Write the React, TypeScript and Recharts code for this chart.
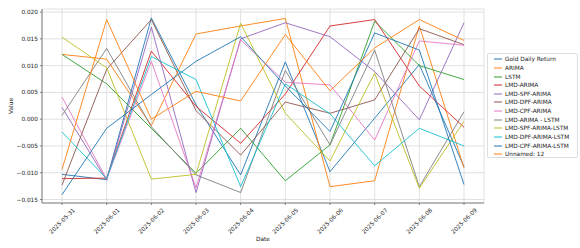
import React from "react";
import { LineChart, Line, XAxis, YAxis, CartesianGrid } from "recharts";

const dates = [
  "2025-05-31",
  "2025-06-01",
  "2025-06-02",
  "2025-06-03",
  "2025-06-04",
  "2025-06-05",
  "2025-06-06",
  "2025-06-07",
  "2025-06-08",
  "2025-06-09",
];

const goldDailyReturn = [-0.0103, -0.0113, 0.0189, 0.0027, -0.0104, 0.0107, -0.0098, 0.0002, 0.0102, -0.0089];
const arima = [0.0121, 0.0112, -0.0012, 0.0159, 0.0174, 0.0188, -0.0126, -0.0115, 0.0174, -0.0091];
const lstm = [0.0121, 0.0066, -0.0017, -0.0101, -0.0017, -0.0115, -0.0048, 0.0183, 0.01, 0.0074];
const lmdArima = [-0.0111, -0.011, 0.0127, 0.0024, -0.0045, 0.0047, 0.0174, 0.0186, 0.0062, -0.0015];
const lmdSpfArima = [0.0022, -0.0114, 0.0172, -0.0137, 0.015, 0.018, 0.0154, 0.0089, -0.0001, 0.018];
const lmdDpfArima = [-0.0123, 0.0093, 0.0186, 0.0016, -0.0067, 0.0032, 0.0011, 0.0036, 0.0169, 0.0139];
const lmdCpfArima = [0.0041, -0.0112, 0.0108, -0.0128, 0.0148, 0.0069, 0.0064, -0.0039, 0.0146, 0.0138];
const lmdArimaLstm = [0.0007, 0.0132, -0.0014, -0.0104, -0.0137, 0.0091, -0.0048, 0.0129, -0.0126, 0.0014];
const lmdSpfArimaLstm = [0.0153, 0.0096, -0.0112, -0.0103, 0.0179, 0.0011, -0.0078, 0.0086, -0.0129, -0.0004];
const lmdDpfArimaLstm = [-0.0024, -0.0111, 0.0117, 0.0074, -0.0126, 0.0066, 0.001, -0.0087, -0.0017, -0.005];
const lmdCpfArimaLstm = [-0.0141, -0.0017, 0.0046, 0.0108, 0.0154, 0.0062, -0.0023, 0.0161, 0.0129, -0.0122];
const unnamed12 = [-0.0094, 0.0186, 0.0, 0.0052, 0.0034, 0.0158, 0.0053, 0.0133, 0.0186, 0.0147];

const yTicks = [-0.015, -0.01, -0.005, 0, 0.005, 0.01, 0.015, 0.02];

// matplotlib tab10 cycle
const series = [
  { key: "Gold Daily Return", values: goldDailyReturn, color: "#1f77b4" },
  { key: "ARIMA", values: arima, color: "#ff7f0e" },
  { key: "LSTM", values: lstm, color: "#2ca02c" },
  { key: "LMD-ARIMA", values: lmdArima, color: "#d62728" },
  { key: "LMD-SPF-ARIMA", values: lmdSpfArima, color: "#9467bd" },
  { key: "LMD-DPF-ARIMA", values: lmdDpfArima, color: "#8c564b" },
  { key: "LMD-CPF-ARIMA", values: lmdCpfArima, color: "#e377c2" },
  { key: "LMD-ARIMA - LSTM", values: lmdArimaLstm, color: "#7f7f7f" },
  { key: "LMD-SPF-ARIMA-LSTM", values: lmdSpfArimaLstm, color: "#bcbd22" },
  { key: "LMD-DPF-ARIMA-LSTM", values: lmdDpfArimaLstm, color: "#17becf" },
  { key: "LMD-CPF-ARIMA-LSTM", values: lmdCpfArimaLstm, color: "#1f77b4" },
  { key: "Unnamed: 12", values: unnamed12, color: "#ff7f0e" },
];

const data = dates.map((date, i) => {
  const row: Record<string, number | string> = { date };
  series.forEach((s) => (row[s.key] = s.values[i]));
  return row;
});

const FONT = 5.8;
const TEXT = "#222";
const FRAME = "#666";
const yDomain = [-0.01565, 0.02057];

const fmtY = (v: number) => v.toFixed(3).replace("-", "\u2212");

const DateTick = ({ x, y, payload }: any) => (
  <text
    transform={`translate(${x},${y + 14}) rotate(-45)`}
    textAnchor="middle"
    dy="0.35em"
    fontSize={FONT}
    fill={TEXT}
  >
    {payload.value}
  </text>
);

function Legend() {
  return (
    <div
      style={{
        position: "absolute",
        left: 487,
        top: 53,
        width: 91,
        height: 105,
        boxSizing: "border-box",
        border: "1px solid #dcdcdc",
        borderRadius: 2,
        background: "#fff",
        padding: "1px 0 0 6px",
      }}
    >
      {series.map((s) => (
        <div key={s.key} style={{ display: "flex", alignItems: "center", height: 8.64 }}>
          <svg width={8} height={4} style={{ marginRight: 3, display: "block" }}>
            <line x1={0} y1={2} x2={8} y2={2} stroke={s.color} strokeWidth={1} />
          </svg>
          <span style={{ fontSize: FONT, color: TEXT, lineHeight: "8px", whiteSpace: "nowrap" }}>{s.key}</span>
        </div>
      ))}
    </div>
  );
}

export default function App() {
  return (
    <div
      style={{
        position: "absolute",
        left: 0,
        top: 0,
        width: 580,
        height: 248,
        background: "#fff",
        fontFamily: "'DejaVu Sans', sans-serif",
      }}
    >
      <LineChart width={580} height={248} data={data} margin={{ top: 9, right: 96, bottom: 0, left: 0 }}>
        <CartesianGrid stroke="#d8d8d8" strokeWidth={0.8} />
        <XAxis
          dataKey="date"
          height={45}
          padding={{ left: 20, right: 20 }}
          interval={0}
          tick={<DateTick />}
          tickSize={2}
          tickMargin={2}
          tickLine={{ stroke: FRAME, strokeWidth: 0.8 }}
          axisLine={{ stroke: FRAME, strokeWidth: 0.8 }}
          label={({ viewBox }: any) => (
            <text
              x={viewBox.x + viewBox.width / 2}
              y={241}
              textAnchor="middle"
              fontSize={FONT}
              fill={TEXT}
            >
              Date
            </text>
          )}
        />
        <XAxis
          xAxisId="top"
          dataKey="date"
          orientation="top"
          height={0}
          padding={{ left: 20, right: 20 }}
          tick={false}
          tickLine={false}
          axisLine={{ stroke: FRAME, strokeWidth: 0.8 }}
        />
        <YAxis
          width={42}
          domain={yDomain}
          ticks={yTicks}
          allowDataOverflow
          tickFormatter={fmtY}
          tick={{ fontSize: FONT, fill: TEXT }}
          tickSize={2}
          tickMargin={2}
          tickLine={{ stroke: FRAME, strokeWidth: 0.8 }}
          axisLine={{ stroke: FRAME, strokeWidth: 0.8 }}
          label={({ viewBox }: any) => (
            <text
              transform={`translate(13,${viewBox.y + viewBox.height / 2}) rotate(-90)`}
              textAnchor="middle"
              fontSize={FONT}
              fill={TEXT}
            >
              Value
            </text>
          )}
        />
        <YAxis
          yAxisId="right"
          orientation="right"
          width={0}
          domain={yDomain}
          allowDataOverflow
          tick={false}
          tickLine={false}
          axisLine={{ stroke: FRAME, strokeWidth: 0.8 }}
        />
        {series.map((s) => (
          <Line
            key={s.key}
            type="linear"
            dataKey={s.key}
            stroke={s.color}
            strokeWidth={0.9}
            dot={false}
            activeDot={false}
            isAnimationActive={false}
          />
        ))}
      </LineChart>
      <Legend />
    </div>
  );
}
